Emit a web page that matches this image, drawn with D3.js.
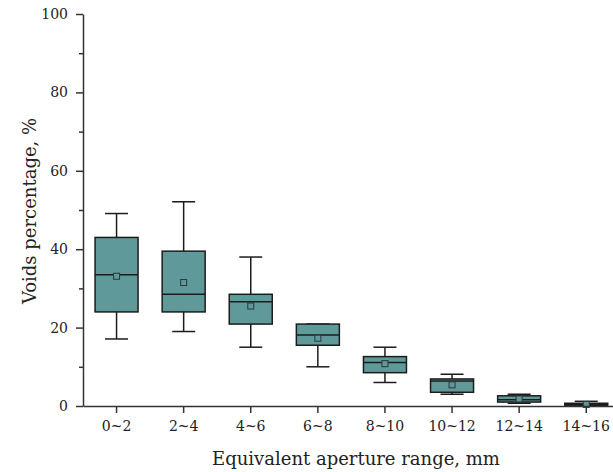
<!DOCTYPE html>
<html>
<head>
<meta charset="utf-8">
<script src="https://cdn.jsdelivr.net/npm/d3@7"></script>
<style>
  body { margin: 0; background: #fff; }
  svg { display: block; }
  .axis text { font-family: "DejaVu Serif", serif; font-size: 14px; fill: #222; }
  .axis path, .axis line { stroke: #333; stroke-width: 1.5px; }
</style>
</head>
<body>
<div id="container"></div>
<script>
// data
let categories = ["0~2", "2~4", "4~6", "6~8", "8~10", "10~12", "12~14", "14~16"];
let whiskerLow = [17.1, 19.0, 15.0, 10.0, 6.0, 3.0, 0.7, 0.2];
let q1 = [24.0, 24.0, 20.9, 15.5, 8.5, 3.5, 1.0, 0.2];
let median = [33.5, 28.5, 26.6, 18.1, 11.1, 6.4, 1.6, 0.4];
let q3 = [43.0, 39.5, 28.5, 20.9, 12.6, 6.9, 2.6, 0.7];
let whiskerHigh = [49.1, 52.1, 38.0, 20.9, 15.0, 8.1, 3.0, 1.2];
let means = [33.1, 31.5, 25.5, 17.3, 10.8, 5.4, 1.8, 0.4];
let yTicks = [0, 20, 40, 60, 80, 100];
let yMinor = [10, 30, 50, 70, 90];

let w = 613;
let h = 472;
let padLeft = 83;
let padTop = 14;
let padBottom = 406;

let viz = d3.select("#container")
  .append("svg")
    .attr("width", w)
    .attr("height", h)
;

let xScale = d3.scaleBand().domain(categories).range([padLeft, padLeft + 8 * 67.1]).padding(0);
let yScale = d3.scaleLinear().domain([0, 100]).range([padBottom, padTop]);

// boxes
let boxW = 43;
let capW = 23;
let fill = "#5f9999";
let ink = "#1c1c1c";

let groups = viz.selectAll(".box")
  .data(categories)
  .enter()
  .append("g")
    .attr("class", "box")
    .attr("transform", function(d){ return "translate(" + (xScale(d) + xScale.bandwidth()/2) + ",0)"; })
;

// whisker lines
groups.append("line")
    .attr("x1", 0).attr("x2", 0)
    .attr("y1", function(d, i){ return yScale(whiskerHigh[i]); })
    .attr("y2", function(d, i){ return yScale(whiskerLow[i]); })
    .attr("stroke", ink).attr("stroke-width", 1.5)
;
groups.append("line")
    .attr("x1", -capW/2).attr("x2", capW/2)
    .attr("y1", function(d, i){ return yScale(whiskerHigh[i]); })
    .attr("y2", function(d, i){ return yScale(whiskerHigh[i]); })
    .attr("stroke", ink).attr("stroke-width", 1.5)
;
groups.append("line")
    .attr("x1", -capW/2).attr("x2", capW/2)
    .attr("y1", function(d, i){ return yScale(whiskerLow[i]); })
    .attr("y2", function(d, i){ return yScale(whiskerLow[i]); })
    .attr("stroke", ink).attr("stroke-width", 1.5)
;

groups.append("rect")
    .attr("x", -boxW/2)
    .attr("width", boxW)
    .attr("y", function(d, i){ return yScale(q3[i]); })
    .attr("height", function(d, i){ return yScale(q1[i]) - yScale(q3[i]); })
    .attr("fill", fill)
    .attr("stroke", ink).attr("stroke-width", 1.5)
;

groups.append("line")
    .attr("x1", -boxW/2).attr("x2", boxW/2)
    .attr("y1", function(d, i){ return yScale(median[i]); })
    .attr("y2", function(d, i){ return yScale(median[i]); })
    .attr("stroke", ink).attr("stroke-width", 1.5)
;

// mean marker
groups.append("rect")
    .attr("x", -3)
    .attr("y", function(d, i){ return yScale(means[i]) - 3; })
    .attr("width", 6).attr("height", 6)
    .attr("fill", fill)
    .attr("stroke", "#2a3a3a").attr("stroke-width", 1)
;

// axes
let xAxis = d3.axisBottom(xScale).tickSize(7).tickPadding(8).tickSizeOuter(0);
let xAxisGroup = viz.append("g")
    .attr("class", "axis")
    .attr("transform", "translate(0," + padBottom + ")")
;
xAxisGroup.call(xAxis);

let yAxis = d3.axisLeft(yScale).tickValues(yTicks).tickSize(7).tickPadding(8).tickSizeOuter(0);
let yAxisGroup = viz.append("g")
    .attr("class", "axis")
    .attr("transform", "translate(" + padLeft + ",0)")
;
yAxisGroup.call(yAxis);

let yMinorAxis = d3.axisLeft(yScale).tickValues(yMinor).tickSize(4).tickFormat("").tickSizeOuter(0);
viz.append("g")
    .attr("class", "axis")
    .attr("transform", "translate(" + padLeft + ",0)")
    .call(yMinorAxis)
  .select(".domain").remove()
;

// titles
viz.append("text")
    .attr("x", 356)
    .attr("y", 465)
    .attr("text-anchor", "middle")
    .style("font-family", "DejaVu Serif, serif")
    .style("font-size", "18px")
    .style("fill", "#222")
    .text("Equivalent aperture range, mm")
;

viz.append("text")
    .attr("transform", "translate(36,211) rotate(-90)")
    .attr("text-anchor", "middle")
    .style("font-family", "DejaVu Serif, serif")
    .style("font-size", "18px")
    .style("fill", "#222")
    .text("Voids percentage, %")
;
</script>
</body>
</html>
